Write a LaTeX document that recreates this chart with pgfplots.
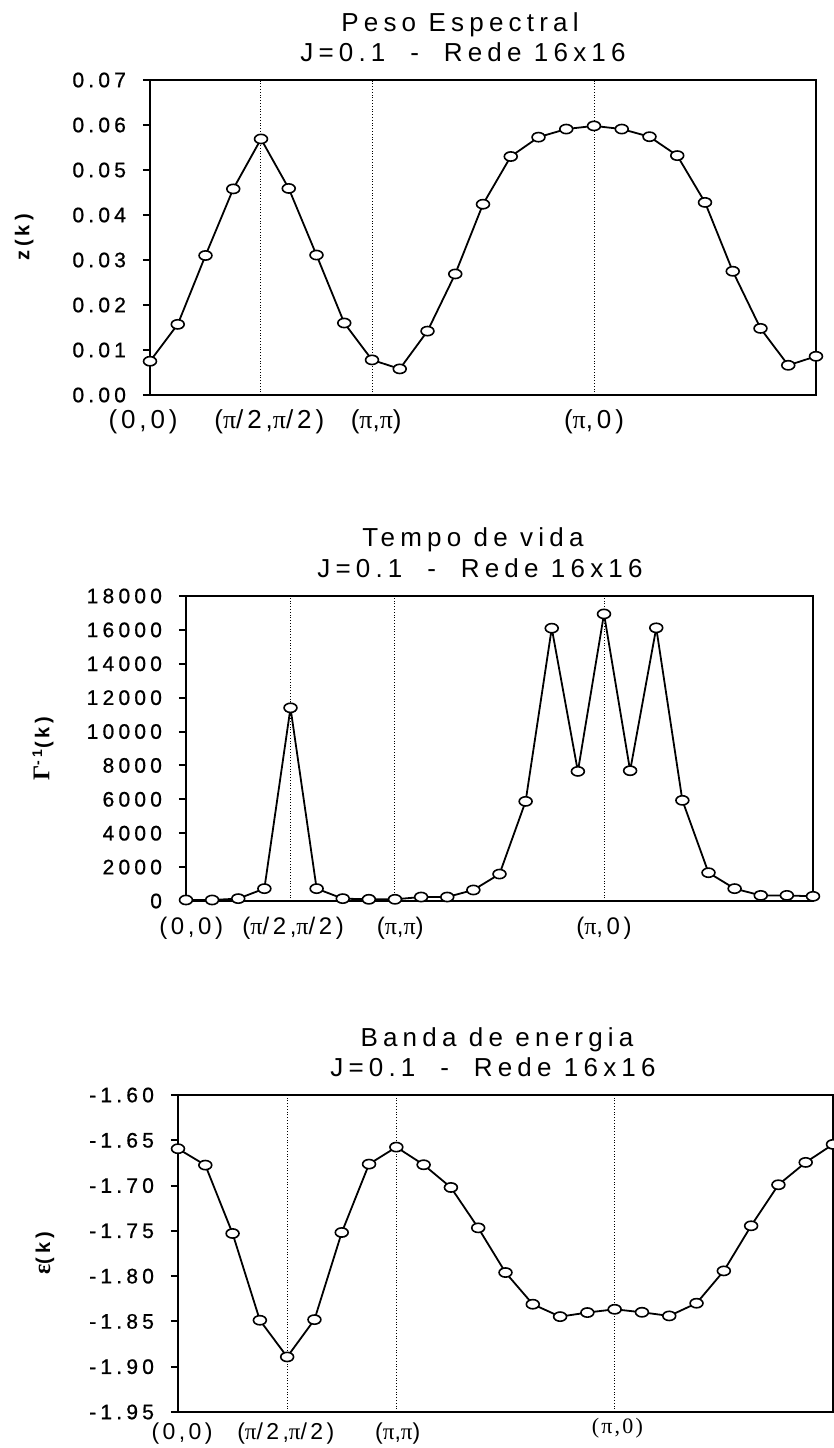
\documentclass[border=0pt]{standalone}
\usepackage{fontspec}
\setmainfont{Liberation Sans}
\newfontfamily\titlefont[LetterSpace=20]{Liberation Sans}
\newfontfamily\tickfont[LetterSpace=20,FakeBold=0.8]{Liberation Sans}
\newfontfamily\labfont[LetterSpace=15]{Liberation Sans}
\newfontfamily\ylabfont[LetterSpace=20]{Liberation Sans}
\newfontfamily\serifgr{Liberation Serif}
\newfontfamily\seriflab[LetterSpace=10]{Liberation Serif}
\newcommand\ppi{{\serifgr π}}
\usepackage{pgfplots}
\pgfplotsset{compat=1.18}
\pgfplotsset{
  panel/.style={
    scale only axis,
    anchor=south west,
    xmin=0, xmax=24,
    clip=false,
    scaled y ticks=false,
    axis line style={line width=1.3pt},
    tick align=outside,
    major tick length=3.5pt,
    ytick pos=left,
    xtick pos=bottom,
    xtick={0,4,8,16},
    xticklabels={},
    xtick style={draw=none},
    xmajorgrids=true,
    major grid style={densely dotted, line width=0.5pt, black},
    ytick style={line width=1pt, black},
    yticklabel style={font=\tickfont\fontsize{10.5}{12}\selectfont, xshift=-5pt},
    ylabel style={anchor=center, font=\ylabfont\bfseries\fontsize{10}{12}\selectfont},
  },
  curve/.style={black, line width=0.9pt, mark=*, mark size=2.3pt,
    mark options={fill=white, line width=0.8pt, xscale=1.4, solid}},
}
\pgfplotstableread{
i z
0 0.0075
1 0.0157
2 0.0310
3 0.0458
4 0.0569
5 0.0459
6 0.0311
7 0.0160
8 0.0078
9 0.0058
10 0.0142
11 0.0269
12 0.0424
13 0.0530
14 0.0573
15 0.0591
16 0.0598
17 0.0591
18 0.0574
19 0.0532
20 0.0428
21 0.0275
22 0.0148
23 0.0066
24 0.0086
}\zdata
\pgfplotstableread{
i g
0 60
1 60
2 140
3 730
4 11400
5 730
6 140
7 100
8 100
9 235
10 235
11 650
12 1590
13 5880
14 16100
15 7650
16 16940
17 7690
18 16120
19 5940
20 1670
21 730
22 330
23 330
24 275
}\gdata
\pgfplotstableread{
i e
0 -1.6593
1 -1.6774
2 -1.7529
3 -1.8487
4 -1.8892
5 -1.8480
6 -1.7518
7 -1.6763
8 -1.6575
9 -1.6770
10 -1.7021
11 -1.7467
12 -1.7960
13 -1.8310
14 -1.8447
15 -1.8402
16 -1.8366
17 -1.8399
18 -1.8439
19 -1.8299
20 -1.7942
21 -1.7444
22 -1.6991
23 -1.6744
24 -1.6545
}\edata
\begin{document}
\begin{tikzpicture}
% ---------- Panel 1 ----------
\begin{axis}[panel, at={(75pt,526.5pt)}, width=333pt, height=157.5pt,
  ymin=0, ymax=0.07,
  ytick={0,0.01,0.02,0.03,0.04,0.05,0.06,0.07},
  yticklabels={0.00,0.01,0.02,0.03,0.04,0.05,0.06,0.07},
  ylabel={z(k)},
  ylabel style={at={(axis description cs:-0.189,0.5)}},
]
\addplot[curve] table[x=i, y=z] {\zdata};
\begin{scope}[every node/.style={anchor=center, font=\labfont\fontsize{13}{15}\selectfont, yshift=-13.25pt}]
\node at (axis cs:-0.25,0) {(0,0)};
\node at (axis cs:4.3,0) {(\ppi/2,\ppi/2)};
\node at (axis cs:8.15,0) {(\ppi,\ppi)};
\node at (axis cs:16,0) {(\ppi,0)};
\end{scope}
\end{axis}
\node[font=\titlefont\fontsize{13}{15}\selectfont] at (230pt,711.5pt) {Peso Espectral};
\node[font=\titlefont\fontsize{13}{15}\selectfont] at (231.5pt,698pt) {J=0.1\ \ -\ \ Rede 16x16};
% ---------- Panel 2 ----------
\begin{axis}[panel, at={(93pt,273.5pt)}, width=313.5pt, height=152.5pt,
  ymin=0, ymax=18000,
  ytick={0,2000,4000,6000,8000,10000,12000,14000,16000,18000},
  yticklabels={0,2000,4000,6000,8000,10000,12000,14000,16000,18000},
  ylabel={{\serifgr\fontsize{12}{14}\selectfont Γ}\textsuperscript{-1}(k)},
  ylabel style={at={(axis description cs:-0.228,0.5)}},
]
\addplot[curve] table[x=i, y=g] {\gdata};
\begin{scope}[every node/.style={anchor=center, font=\labfont\fontsize{12}{14}\selectfont, yshift=-13.5pt}]
\node at (axis cs:0.2,0) {(0,0)};
\node at (axis cs:4.1,0) {(\ppi/2,\ppi/2)};
\node at (axis cs:8.2,0) {(\ppi,\ppi)};
\node at (axis cs:16,0) {(\ppi,0)};
\end{scope}
\end{axis}
\node[font=\titlefont\fontsize{13}{15}\selectfont] at (236.5pt,454pt) {Tempo de vida};
\node[font=\titlefont\fontsize{13}{15}\selectfont] at (240pt,440pt) {J=0.1\ \ -\ \ Rede 16x16};
% ---------- Panel 3 ----------
\begin{axis}[panel, at={(89pt,18pt)}, width=327.5pt, height=158.5pt,
  ymin=-1.95, ymax=-1.60,
  ytick={-1.95,-1.90,-1.85,-1.80,-1.75,-1.70,-1.65,-1.60},
  yticklabels={-1.95,-1.90,-1.85,-1.80,-1.75,-1.70,-1.65,-1.60},
  ylabel={{\serifgr\fontsize{12}{14}\selectfont ε}(k)},
  ylabel style={at={(axis description cs:-0.203,0.5)}},
]
\addplot[curve] table[x=i, y=e] {\edata};
\begin{scope}[every node/.style={anchor=center, font=\labfont\fontsize{11.5}{13}\selectfont, yshift=-11pt}]
\node at (axis cs:0.15,-1.95) {(0,0)};
\node at (axis cs:3.95,-1.95) {(\ppi/2,\ppi/2)};
\node at (axis cs:8.05,-1.95) {(\ppi,\ppi)};
\node[font=\seriflab\fontsize{11}{13}\selectfont, yshift=3pt] at (axis cs:16.1,-1.95) {(π,0)};
\end{scope}
\end{axis}
\node[font=\titlefont\fontsize{13}{15}\selectfont] at (248.5pt,204pt) {Banda de energia};
\node[font=\titlefont\fontsize{13}{15}\selectfont] at (246.5pt,190.5pt) {J=0.1\ \ -\ \ Rede 16x16};
\pgfresetboundingbox
\useasboundingbox (0,0) rectangle (417pt,724pt);
\end{tikzpicture}
\end{document}
